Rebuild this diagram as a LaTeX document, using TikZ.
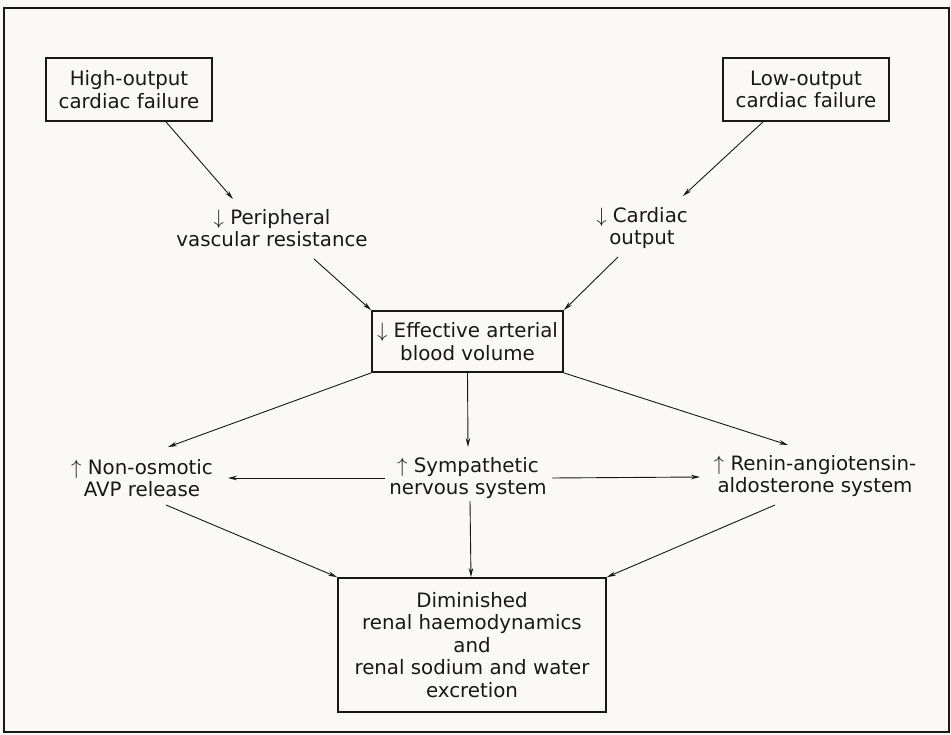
\documentclass[tikz,border=0pt]{standalone}
\usepackage{fontspec}
\setmainfont{DejaVu Sans}
\usepackage{tikz}
\usetikzlibrary{arrows.meta, positioning, calc}
\definecolor{page-cream}{RGB}{251, 249, 245}
\definecolor{ink}{RGB}{24, 24, 24}
\newcommand{\arrup}{$\uparrow$\ }
\newcommand{\arrdn}{$\downarrow$\ }

\begin{document}
\begin{tikzpicture}[x=1pt, y=-1pt,
    box/.style={rectangle, draw=ink, line width=1.8pt, inner sep=0pt,
                align=center, font=\fontsize{19.8}{22.5}\selectfont, text=ink},
    lbl/.style={align=center, inner sep=2pt,
                font=\fontsize{19.8}{22.5}\selectfont, text=ink},
    arr/.style={-{Stealth[length=9pt, width=4.5pt]}, line width=0.9pt, color=ink}
  ]
    \fill[page-cream] (0,0) rectangle (951,735);
    \useasboundingbox (0,0) rectangle (951,735);
    \draw[ink, line width=1.8pt] (4,8) rectangle (949,732);

    \node[box, minimum width=166, minimum height=63] (hi) at (129,89.5) {High-output\\cardiac failure};
    \node[box, minimum width=166, minimum height=63] (lo) at (806,89.5) {Low-output\\cardiac failure};
    \node[lbl] (pvr) at (272,228) {\arrdn Peripheral\\vascular resistance};
    \node[lbl] (co) at (642,228) {\arrdn Cardiac\\output};
    \node[box, minimum width=191, minimum height=61] (eabv) at (467.5,341.5) {\arrdn Effective arterial\\blood volume};
    \node[lbl] (avp) at (142,478) {\arrup Non-osmotic\\AVP release};
    \node[lbl] (sns) at (468,478) {\arrup Sympathetic\\nervous system};
    \node[lbl] (raas) at (815,476) {\arrup Renin-angiotensin-\\aldosterone system};
    \node[box, minimum width=268, minimum height=134] (out) at (472,645)
      {Diminished\\renal haemodynamics\\and\\renal sodium and water\\excretion};

    \draw[arr] ($(hi.south)+(37,0)$) -- ($(pvr)+(-39,-29)$);
    \draw[arr] ($(lo.south)+(-43,0)$) -- ($(co)+(41,-32)$);
    \draw[arr] ($(pvr)+(42,31)$) -- (eabv.north west);
    \draw[arr] ($(co)+(-24,29)$) -- (eabv.north east);
    \draw[arr] (eabv.south west) -- ($(avp)+(26,-31)$);
    \draw[arr] (eabv.south) -- ($(sns)+(0,-31)$);
    \draw[arr] (eabv.south east) -- ($(raas)+(-27,-31)$);
    \draw[arr] ($(sns)+(-83,0)$) -- ($(avp)+(86,0)$);
    \draw[arr] ($(sns)+(84,0)$) -- ($(raas)+(-115,1)$);
    \draw[arr] ($(avp)+(24,27)$) -- (out.north west);
    \draw[arr] ($(sns)+(2,23)$) -- ($(out.north)+(-1,0)$);
    \draw[arr] ($(raas)+(-40,29)$) -- (out.north east);
  \end{tikzpicture}
\end{document}
